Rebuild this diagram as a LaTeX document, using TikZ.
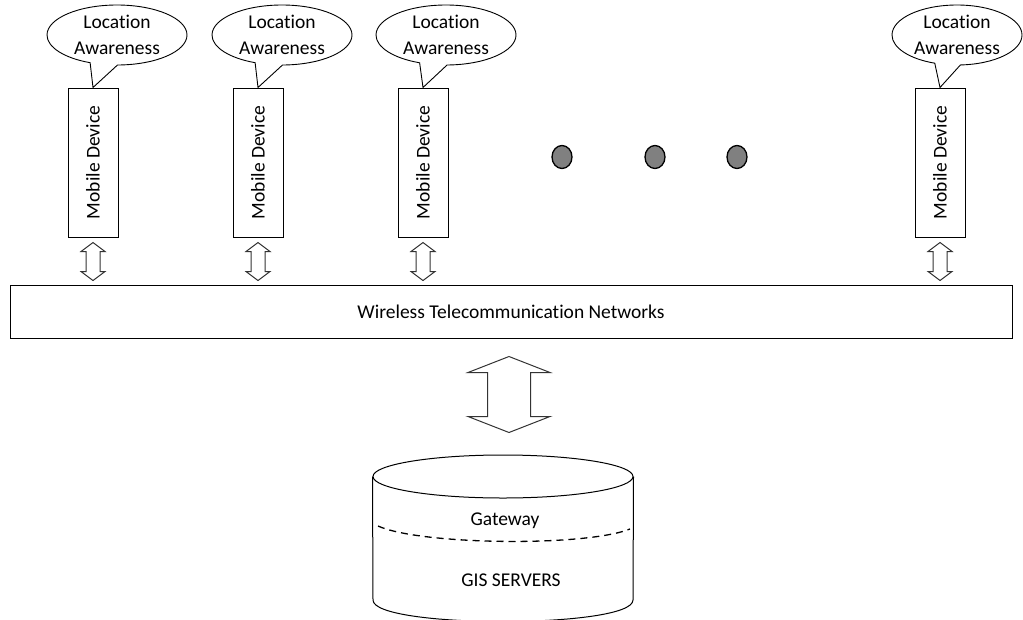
\documentclass[tikz,border=0pt]{standalone}
\usepackage{fontspec}
\setmainfont{Carlito}[Ligatures={NoCommon}]
\usetikzlibrary{shapes.callouts,shapes.geometric,calc}
\tikzset{
  lbl/.style={font=\fontsize{19.5}{26}\selectfont},
  mdev/.style={draw, line width=1pt, rotate=90, minimum width=149pt, minimum height=50pt, inner sep=0pt, lbl},
  loc/.style={ellipse callout, draw, line width=0.9pt, minimum width=140pt, minimum height=60pt, inner sep=0pt, align=center, callout pointer arc=23, lbl},
  dotsty/.style={ellipse, draw, line width=1.3pt, fill=gray, minimum width=20pt, minimum height=23pt, inner sep=0pt},
  arrsty/.style={draw=black!80, line width=1pt, line join=miter, fill=white},
}
\newcommand\udarrow[5]{% #1 top tip, #2 bottom tip, #3 half shaft, #4 half head, #5 head length
  \path[arrsty] (#1) -- ($(#1)+(#4,#5)$) -- ($(#1)+(#3,#5)$) -- ($(#2)+(#3,-#5)$) -- ($(#2)+(#4,-#5)$)
    -- (#2) -- ($(#2)+(-#4,-#5)$) -- ($(#2)+(-#3,-#5)$) -- ($(#1)+(-#3,#5)$) -- ($(#1)+(-#4,#5)$) -- cycle;}
\begin{document}
\begin{tikzpicture}[x=1pt,y=-1pt]
\useasboundingbox (0,0) rectangle (1023,619);
% mobile devices
\node[mdev] (m1) at (93,162.5) {Mobile Device};
\node[mdev] (m2) at (258,162.5) {Mobile Device};
\node[mdev] (m3) at (423,162.5) {Mobile Device};
\node[mdev] (m4) at (940,162.5) {Mobile Device};
% callouts
\node[loc, callout absolute pointer={(m1.east)}] (l1) at (117,35) {Location\\Awareness};
\node[loc, callout absolute pointer={(m2.east)}] (l2) at (282,35) {Location\\Awareness};
\node[loc, callout absolute pointer={(m3.east)}] (l3) at (446,35) {Location\\Awareness};
\node[loc, minimum width=130pt, callout absolute pointer={(m4.east)}] (l4) at (957,35) {Location\\Awareness};
% dots
\node[dotsty] (d1) at (562,157) {};
\node[dotsty] (d2) at (655,157) {};
\node[dotsty] (d3) at (737,157) {};
% network
\node[draw, line width=1pt, minimum width=1002pt, minimum height=53pt, inner sep=0pt, lbl] (net) at (511,311.5) {Wireless Telecommunication Networks};
% small arrows
\foreach \m in {m1,m2,m3,m4}{
  \coordinate (\m t) at ($(\m.west)+(0,5)$);
  \coordinate (\m b) at ($(\m.west |- net.north)+(0,-4)$);
  \udarrow{\m t}{\m b}{7}{12}{9}
}
% cylinder
\node[ellipse, draw, line width=1pt, minimum width=260pt, minimum height=43pt, inner sep=0pt] (db) at (503,476.5) {};
\coordinate (dbl) at (373,600);
\coordinate (dbr) at (633,600);
\draw[line width=1pt] (db.west) -- (dbl) .. controls (373,628.7) and (633,628.7) .. (dbr) -- (db.east);
\draw[line width=1.3pt, dashed, dash pattern=on 7pt off 5pt] (378,526) .. controls (420,545) and (585,547) .. (630,529);
\node[lbl, anchor=base] (gw) at (505,525) {Gateway};
\node[lbl, anchor=base] (gis) at (511,586) {GIS SERVERS};
% big arrow
\coordinate (bt) at ($(net.south)+(-2,18)$);
\coordinate (bb) at ($(db.north)+(6,-22)$);
\udarrow{bt}{bb}{21.5}{41}{16}
\end{tikzpicture}
\end{document}
